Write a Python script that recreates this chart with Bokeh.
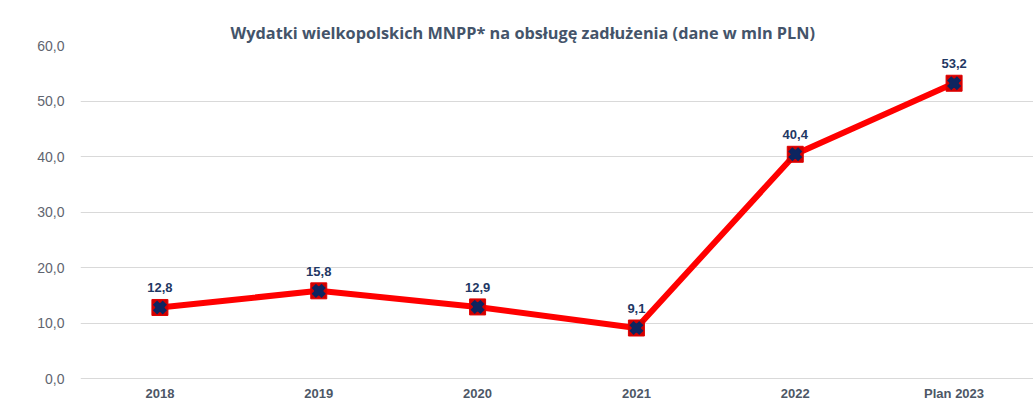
from bokeh.plotting import figure
from bokeh.models import Range1d, FixedTicker, ColumnDataSource, LabelSet
from bokeh.core.properties import value
from bokeh.embed import file_html
from bokeh.resources import INLINE

categories = ["2018", "2019", "2020", "2021", "2022", "Plan 2023"]
values = [12.8, 15.8, 12.9, 9.1, 40.4, 53.2]
value_labels = ["12,8", "15,8", "12,9", "9,1", "40,4", "53,2"]
y_ticks = [0, 10, 20, 30, 40, 50, 60]
y_tick_labels = ["0,0", "10,0", "20,0", "30,0", "40,0", "50,0", "60,0"]
title_text = "Wydatki wielkopolskich MNPP*  na obsługę zadłużenia (dane w mln PLN)"

xs = list(range(len(categories)))
src = ColumnDataSource(dict(x=xs, y=values, lab=value_labels))
cat_src = ColumnDataSource(dict(x=xs, y=[0] * len(xs), lab=categories))

p = figure(width=1033, height=401, output_backend="svg", toolbar_location=None,
           x_range=Range1d(-0.5, len(categories) - 0.5), y_range=Range1d(-4.14, 60),
           min_border_left=80, min_border_right=0, min_border_top=45, min_border_bottom=0)
p.outline_line_color = None
p.background_fill_color = "white"
p.border_fill_color = "white"

p.title.text = title_text
p.title.align = "left"
p.title.offset = 150
p.title.standoff = 3
p.title.text_font = "Open Sans"
p.title.text_font_style = "bold"
p.title.text_font_size = "16.3px"
p.title.text_color = "#44546a"

p.xaxis.visible = False
p.xgrid.grid_line_color = None
p.ygrid.grid_line_color = "#d9d9d9"
p.ygrid.grid_line_width = 1

p.yaxis.ticker = FixedTicker(ticks=y_ticks)
p.yaxis.major_label_overrides = {t: l for t, l in zip(y_ticks, y_tick_labels)}
p.yaxis.axis_line_color = None
p.yaxis.major_tick_line_color = None
p.yaxis.minor_tick_line_color = None
p.yaxis.major_label_text_font = "Liberation Sans"
p.yaxis.major_label_text_color = "#5f6570"
p.yaxis.major_label_text_font_size = "14px"
p.yaxis.major_label_standoff = 10

p.line("x", "y", source=src, line_color="#ff0000", line_width=6)
p.scatter("x", "y", source=src, marker="square", size=16, fill_color="#d00000",
          line_color="#e00000", line_width=1)
p.scatter("x", "y", source=src, marker="x", size=14, line_color="#0d2560", line_width=6)
p.scatter("x", "y", source=src, marker="square", size=9, fill_color="#0d2560",
          line_color=None)

labels = LabelSet(x="x", y="y", text="lab", source=src, y_offset=15,
                  text_align="center", text_baseline="bottom",
                  text_font=value("Liberation Sans"), text_font_style="bold",
                  text_font_size="13px", text_color="#1f3864")
p.add_layout(labels)

cat_labels = LabelSet(x="x", y="y", text="lab", source=cat_src, y_offset=-15,
                      text_align="center", text_baseline="middle",
                      text_font=value("Liberation Sans"), text_font_style="bold",
                      text_font_size="13px", text_color="#4d5766")
p.add_layout(cat_labels)

open("out.html", "w").write(file_html(p, INLINE))
